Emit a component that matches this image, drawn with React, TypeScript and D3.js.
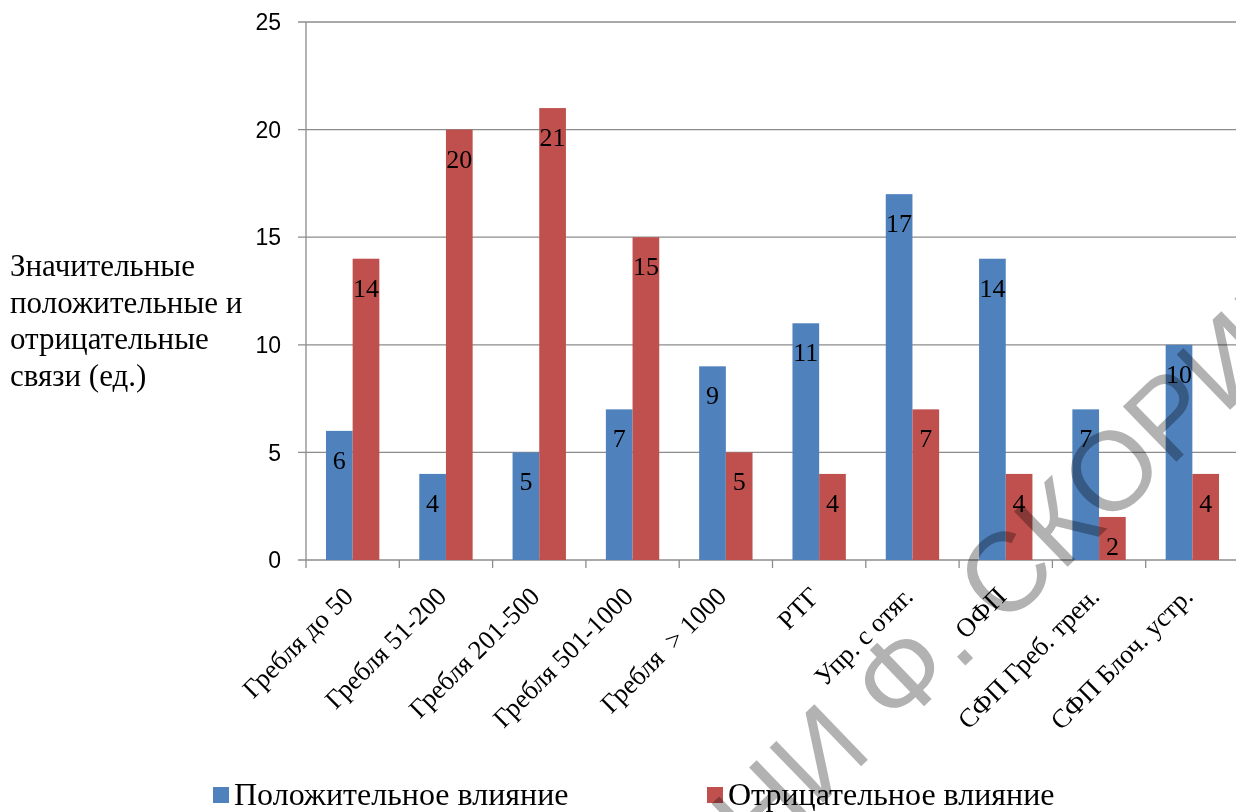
import React from "react";
import * as d3 from "d3";

const categories = [
  "Гребля до 50",
  "Гребля 51-200",
  "Гребля 201-500",
  "Гребля 501-1000",
  "Гребля  > 1000",
  "РТГ",
  "Упр. с отяг.",
  "ОФП",
  "СФП Греб. трен.",
  "СФП Блоч. устр.",
];
const positive = [6, 4, 5, 7, 9, 11, 17, 14, 7, 10];
const negative = [14, 20, 21, 15, 5, 4, 7, 4, 2, 4];
const seriesNames = ["Положительное влияние", "Отрицательное влияние"];
const yTicks = [0, 5, 10, 15, 20, 25];
const yTitle = ["Значительные", "положительные и", "отрицательные", "связи (ед.)"];
const watermarkLeft = "РЕПОЗИТОРИЙ ГГУ ИМЕНИ Ф.";
const watermarkRight = "СКОРИНЫ";

const colors = ["#4F81BD", "#C0504D"];
const W = 1236;
const H = 812;
const left = 306;
const bottom = 560;
const top = 22;
const bandW = 93.3;

export default function App() {
  const x = d3
    .scaleBand<string>()
    .domain(categories)
    .range([left, left + bandW * categories.length]);
  const bw = x.bandwidth();
  const xs = d3
    .scaleBand<number>()
    .domain([0, 1])
    .range([bw * 0.214, bw * 0.786]);
  const y = d3.scaleLinear().domain([0, 25]).range([bottom, top]);
  const data = [positive, negative];
  const serif = "'Liberation Serif', 'Times New Roman', serif";
  const sans = "'Liberation Sans', Arial, sans-serif";
  const grid = "#8c8c8c";

  return (
    <svg
      width={W}
      height={H}
      style={{ position: "absolute", left: 0, top: 0, background: "#fff" }}
    >
      <rect x={0} y={0} width={W} height={H} fill="#fff" />
      {/* gridlines */}
      {yTicks.map((t) => (
        <g key={t}>
          <line x1={left - 8} x2={W} y1={y(t)} y2={y(t)} stroke={grid} strokeWidth={1.3} />
          <text
            x={281}
            y={y(t)}
            dy="0.36em"
            textAnchor="end"
            fontFamily={sans}
            fontSize={23}
            fill="#000"
          >
            {t}
          </text>
        </g>
      ))}
      <line x1={left} x2={left} y1={top} y2={bottom} stroke={grid} strokeWidth={1.3} />
      {/* x ticks */}
      {d3.range(categories.length + 1).map((i) => (
        <line
          key={i}
          x1={left + bw * i}
          x2={left + bw * i}
          y1={bottom}
          y2={bottom + 8}
          stroke={grid}
          strokeWidth={1.3}
        />
      ))}
      {/* bars */}
      {categories.map((c, i) => (
        <g key={c}>
          {data.map((s, j) => (
            <g key={j}>
              <rect
                x={(x(c) as number) + (xs(j) as number)}
                y={y(s[i])}
                width={xs.bandwidth()}
                height={bottom - y(s[i])}
                fill={colors[j]}
              />
              <text
                x={(x(c) as number) + (xs(j) as number) + xs.bandwidth() / 2}
                y={y(s[i]) + 38}
                textAnchor="middle"
                fontFamily={serif}
                fontSize={26}
                fill="#000"
              >
                {s[i]}
              </text>
            </g>
          ))}
        </g>
      ))}
      {/* x labels */}
      {categories.map((c) => {
        const cx = (x(c) as number) + bw / 2 + 2;
        const cy = 598;
        return (
          <text
            key={c}
            transform={`translate(${cx},${cy}) rotate(-45)`}
            textAnchor="end"
            fontFamily={serif}
            fontSize={26.5}
            fill="#000"
            style={{ whiteSpace: "pre" }}
          >
            {c}
          </text>
        );
      })}
      {/* y title */}
      {yTitle.map((l, i) => (
        <text key={l} x={10} y={276 + i * 36.5} fontFamily={serif} fontSize={31} fill="#000">
          {l}
        </text>
      ))}
      {/* legend */}
      {seriesNames.map((n, i) => {
        const lx = i === 0 ? 213 : 707;
        return (
          <g key={n}>
            <rect x={lx} y={787} width={16} height={16} fill={colors[i]} />
            <text x={lx + 21} y={805} fontFamily={serif} fontSize={32} fill="#000">
              {n}
            </text>
          </g>
        );
      })}
      {/* watermark */}
      <g
        transform="translate(969,662) rotate(-44)"
        style={{ mixBlendMode: "multiply" }}
        fill="#b2b2b2"
        fontFamily={sans}
        fontSize={112}
      >
        <text x={16} textAnchor="end">
          {watermarkLeft}
        </text>
        <text x={47} textAnchor="start">
          {watermarkRight}
        </text>
      </g>
    </svg>
  );
}
